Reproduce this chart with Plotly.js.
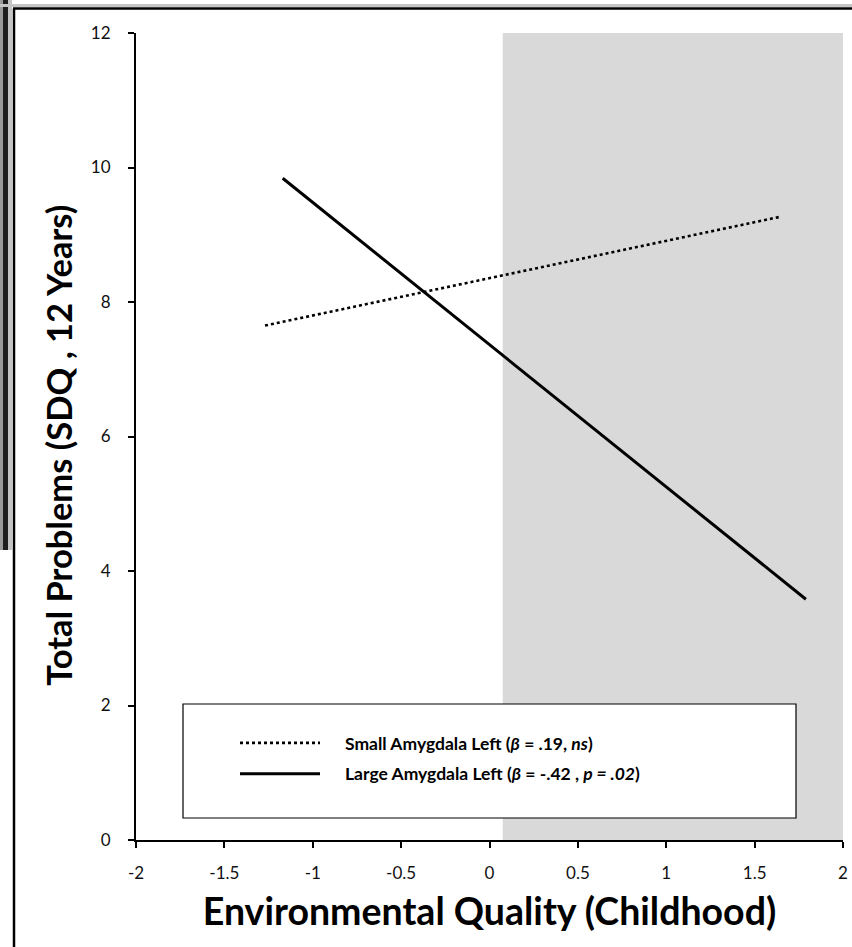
<!DOCTYPE html>
<html>
<head>
<meta charset="utf-8">
<script src="https://cdn.plot.ly/plotly-3.0.1.min.js"></script>
<style>
html,body{margin:0;padding:0;background:#fff;}
#chart{width:852px;height:947px;}
</style>
</head>
<body>
<div id="chart"></div>
<script>
// Data
const smallX = [-1.27, 1.65];
const smallY = [7.65, 9.27];
const largeX = [-1.17, 1.79];
const largeY = [9.84, 3.58];
const seriesNames = [
  '<b>Small Amygdala Left (<i>β</i> = .19, <i>ns</i>)</b>',
  '<b>Large Amygdala Left (<i>β</i> = -.42 , <i>p = .02</i>)</b>'
];
const shadeX = [0.075, 2];
const shadeY = [0, 12];
const xTicks = [-2, -1.5, -1, -0.5, 0, 0.5, 1, 1.5, 2];
const yTicks = [0, 2, 4, 6, 8, 10, 12];
const xRange = [-2, 2];
const yRange = [0, 12];

// pixel helpers for decorative frame (paper coords)
const L = 136, R = 843, T = 33, B = 840;
const px = p => (p - L) / (R - L);
const py = q => (B - q) / (B - T);

const FAM = 'Lato, "DejaVu Sans", sans-serif';

const traces = [
  {x: smallX, y: smallY, mode: 'lines', name: seriesNames[0], legendgroup: 'a',
   line: {color: '#000', width: 2.6, dash: 'dot'}},
  {x: largeX, y: largeY, mode: 'lines', name: seriesNames[1], legendgroup: 'b',
   line: {color: '#000', width: 3}}
];

const shapes = [
  {type: 'rect', xref: 'x', yref: 'y', x0: shadeX[0], x1: shadeX[1], y0: shadeY[0], y1: shadeY[1],
   fillcolor: '#d9d9d9', line: {width: 0}, layer: 'below'},
  // legend box
  {type: 'rect', xref: 'paper', yref: 'paper', x0: px(183), x1: px(796), y0: py(818), y1: py(704),
   fillcolor: '#fff', line: {color: '#000', width: 1.2}, layer: 'above'},
  // frame shadow and border
  {type: 'rect', xref: 'paper', yref: 'paper', x0: px(0), x1: px(3), y0: py(550), y1: py(0),
   fillcolor: '#9a9a9a', line: {width: 0}},
  {type: 'rect', xref: 'paper', yref: 'paper', x0: px(3), x1: px(8), y0: py(550), y1: py(0),
   fillcolor: '#1e1e1e', line: {width: 0}},
  {type: 'rect', xref: 'paper', yref: 'paper', x0: px(8), x1: px(12), y0: py(550), y1: py(0),
   fillcolor: '#c4c4c4', line: {width: 0}},
  {type: 'rect', xref: 'paper', yref: 'paper', x0: px(0), x1: px(852), y0: py(7), y1: py(4),
   fillcolor: '#c4c4c4', line: {width: 0}},
  {type: 'line', xref: 'paper', yref: 'paper', x0: px(14), x1: px(14), y0: py(947), y1: py(8.5),
   line: {color: '#000', width: 2.5}},
  {type: 'line', xref: 'paper', yref: 'paper', x0: px(13), x1: px(852), y0: py(8.5), y1: py(8.5),
   line: {color: '#000', width: 2.5}}
];

const layout = {
  width: 852, height: 947,
  margin: {l: L, r: 852 - R, t: T, b: 947 - B},
  paper_bgcolor: '#fff', plot_bgcolor: 'rgba(0,0,0,0)',
  font: {family: FAM, size: 17, color: '#111'},
  shapes: shapes,
  showlegend: true,
  legend: {
    x: px(235), y: py(725), xanchor: 'left', yanchor: 'top',
    bgcolor: 'rgba(0,0,0,0)', borderwidth: 0,
    traceorder: 'grouped', tracegroupgap: 5,
    itemwidth: 100,
    font: {family: FAM, size: 17.5, color: '#000'}
  },
  xaxis: {
    range: xRange, tickmode: 'array', tickvals: xTicks, ticktext: xTicks.map(String),
    showgrid: false, zeroline: false, showline: true, linecolor: '#000', linewidth: 2,
    ticks: 'outside', ticklen: 6, tickwidth: 2, tickcolor: '#000',
    tickfont: {family: FAM, size: 17, color: '#111'}, ticklabelstandoff: 11, automargin: false,
    title: {text: '<b>Environmental Quality (Childhood)</b>', standoff: 16,
            font: {family: FAM, size: 37.5, color: '#000'}}
  },
  yaxis: {
    range: yRange, tickmode: 'array', tickvals: yTicks, ticktext: yTicks.map(String),
    showgrid: false, zeroline: false, showline: true, linecolor: '#000', linewidth: 2,
    ticks: 'outside', ticklen: 6, tickwidth: 2, tickcolor: '#000',
    tickfont: {family: FAM, size: 17, color: '#111'}, ticklabelstandoff: 14, automargin: false,
    title: {text: '<b>Total Problems (SDQ , 12 Years)</b>&nbsp;&nbsp;', standoff: 8,
            font: {family: FAM, size: 34.5, color: '#000'}}
  }
};

Plotly.newPlot('chart', traces, layout, {displayModeBar: false, staticPlot: true}).then(() => {
  document.querySelectorAll('#chart .legendlines path').forEach(p => {
    p.setAttribute('d', 'M5,0h80');
  });
});
</script>
</body>
</html>
